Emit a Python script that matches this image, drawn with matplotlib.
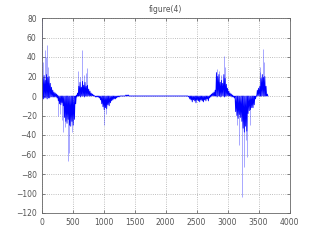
import numpy as np
import matplotlib
matplotlib.use("Agg")
import matplotlib.pyplot as plt

# envelope of the dense signal, sampled every 20 samples from 0 to 3640
step = 20
upper = [
    22, 18, 21, 16, 22, 19, 20, 13, 9, 6,          # 0
    4, 3, 2, 1, 0, 0, 0, 0, 0, 0,                  # 200
    0, 0, 0, 0, 0, 0, 0, 0, 1, 3,                  # 400
    10, 14, 9, 15, 11, 14, 10, 11, 7, 5,           # 600
    3, 2, 1, 0, 0, 0, 0, 0, 0, 0,                  # 800
    0, 0, 0, 0, 0, 0, 0, 0, 0, 0,                  # 1000
    0, 0, 0, 0, 0, 0, 0, 0, 1, 1,                  # 1200
    1, 0, 0, 0, 0, 0, 0, 0, 0, 0,                  # 1400
    0, 0, 0, 0, 0, 0, 0, 0, 0, 0,                  # 1600
    0, 0, 0, 0, 0, 0, 0, 0, 0, 0,                  # 1800
    0, 0, 0, 0, 0, 0, 0, 0, 0, 0,                  # 2000
    0, 0, 0, 0, 0, 0, 0, 0, 0, 0,                  # 2200
    0, 0, 0, 0, 0, 0, 0, 0, 0, 0,                  # 2400
    0, 0, 0, 0, 0, 0, 1, 2, 3, 4,                  # 2600
    6, 24, 20, 22, 14, 16, 13, 22, 18, 12,         # 2800
    8, 5, 3, 2, 1, 0, 0, 0, 0, 0,                  # 3000
    0, 0, 0, 0, 0, 0, 0, 0, 0, 0,                  # 3200
    0, 0, 0, 0, 6, 8, 10, 18, 22, 19,              # 3400
    20, 10, 2,                                     # 3600
]
lower = [
    -2, -3, -2, -2, -3, -2, -2, -1, -1, -1,        # 0
    -1, -1, -2, -5, -8, -9, -7, -10, -22, -26,     # 200
    -28, -24, -30, -31, -26, -30, -24, -8, -1, 0,  # 400
    0, -1, 0, 0, -1, 0, 0, 0, 0, 0,                # 600
    0, 0, 0, -1, -1, -1, -2, -4, -8, -11,          # 800
    -14, -12, -13, -9, -10, -7, -5, -4, -3, -3,    # 1000
    -2, -1, -1, 0, 0, 0, 0, 0, 0, 0,               # 1200
    0, 0, 0, 0, 0, 0, 0, 0, 0, 0,                  # 1400
    0, 0, 0, 0, 0, 0, 0, 0, 0, 0,                  # 1600
    0, 0, 0, 0, 0, 0, 0, 0, 0, 0,                  # 1800
    0, 0, 0, 0, 0, 0, 0, 0, 0, 0,                  # 2000
    0, 0, 0, 0, 0, 0, 0, 0, -1, -3,                # 2200
    -4, -6, -4, -5, -7, -4, -5, -6, -4, -5,        # 2400
    -6, -4, -5, -3, -5, -2, -1, 0, 0, 0,           # 2600
    0, -1, 0, 0, -1, 0, 0, -1, 0, 0,               # 2800
    0, 0, 0, -1, -1, -2, -16, -20, -23, -19,       # 3000
    -22, -26, -33, -37, -31, -36, -18, -15, -14, -12,  # 3200
    -12, -9, -3, 0, 0, 0, 0, 0, 0, 0,              # 3400
    0, 0, 0,                                       # 3600
]

# isolated spikes
spike_x = [0, 30, 53, 70, 91, 110, 268, 300, 322, 349, 380, 419, 445, 484,
           590, 620, 645, 680, 710, 736, 1005, 1040,
           2833, 2860, 2900, 2946, 2960, 3150, 3188, 3236, 3268, 3290, 3316, 3360,
           3520, 3530, 3565, 3590]
spike_y = [80, 35, 47, 40, 52, 30, -21, -18, -25, -37, -32, -67, -58, -37,
           26, 20, 47, 22, 24, 29, -30, -18,
           28, 26, 22, 41, 30, -30, -50, -104, -73, -45, -63, -30,
           25, 30, 48, 35]

# interleave upper / lower so the trace zig-zags like the raw signal
x_env = np.arange(len(upper)) * step
xs = np.empty(2 * len(upper))
ys = np.empty(2 * len(upper))
xs[0::2] = x_env
xs[1::2] = x_env + step / 2
ys[0::2] = upper
ys[1::2] = lower

fig = plt.figure(figsize=(3.2, 2.4), dpi=100)
ax = fig.add_axes([0.13, 0.1125, 0.775, 0.8125])

ax.plot(xs, ys, color="#0000ff", linewidth=0.6)
ax.vlines(spike_x, 0, spike_y, color="#0000ff", linewidth=0.4, alpha=0.6)

ax.set_xlim(0, 4000)
ax.set_ylim(-120, 80)
ax.set_xticks(np.arange(0, 4001, 500))
ax.set_yticks(np.arange(-120, 81, 20))
ax.grid(True, linestyle=":", color="#aaaaaa", linewidth=0.6)
ax.tick_params(direction="in", length=2, labelsize=5.5, colors="#555555",
               top=True, right=True, width=0.5)
for s in ax.spines.values():
    s.set_color("#666666")
    s.set_linewidth(0.6)
ax.set_title("figure(4)", fontsize=5.5, color="#555555", pad=4)

fig.savefig("out.png", dpi=100)
